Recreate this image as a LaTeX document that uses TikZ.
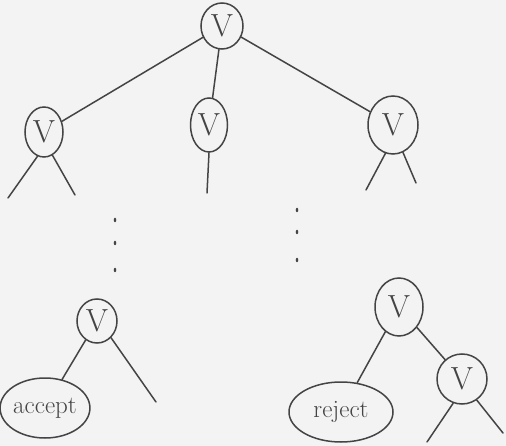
\documentclass[tikz,border=0pt]{standalone}
\usetikzlibrary{shapes.geometric}
\definecolor{ink}{HTML}{444444}
\definecolor{paper}{HTML}{F3F3F3}
\begin{document}
\begin{tikzpicture}[x=1pt,y=-1pt,
  pen/.style={draw=ink,line width=1.5pt,line cap=round},
  vnode/.style={ellipse,pen,inner sep=0pt,text=ink,font=\fontsize{32}{32}\selectfont},
  leaf/.style={ellipse,pen,inner sep=0pt,text=ink,font=\fontsize{25}{25}\selectfont},
  dot/.style={ellipse,fill=ink,inner sep=0pt,minimum width=2.6pt,minimum height=4.5pt}]
  \fill[paper] (0,0) rectangle (506,446);
  \useasboundingbox (0,0) rectangle (506,446);

  % upper tree
  \node[vnode,minimum width=42,minimum height=46] (root) at (222,26) {V};
  \node[vnode,minimum width=38,minimum height=50] (a) at (44,132) {V};
  \node[vnode,minimum width=37,minimum height=54] (b) at (209,125) {V};
  \node[vnode,minimum width=50,minimum height=58] (c) at (393,125) {V};
  \draw[pen] (root) -- (a);
  \draw[pen] (root) -- (b);
  \draw[pen] (root) -- (c);

  % open branches below the first level
  \coordinate (a1) at (8,198);
  \coordinate (a2) at (75,195);
  \coordinate (b1) at (207,193);
  \coordinate (c1) at (366,190);
  \coordinate (c2) at (416,183);
  \draw[pen] (a.-105) -- (a1);
  \draw[pen] (a.-70) -- (a2);
  \draw[pen] (b.-90) -- (b1);
  \draw[pen] (c.-105) -- (c1);
  \draw[pen] (c.-70) -- (c2);

  % vertical ellipses
  \node[dot] (d1) at (115,220) {};
  \node[dot] (d2) at (115,243) {};
  \node[dot] (d3) at (115,270) {};
  \node[dot] (e1) at (297,210) {};
  \node[dot] (e2) at (297,232) {};
  \node[dot] (e3) at (297,260) {};

  % lower left subtree
  \node[vnode,minimum width=40,minimum height=44] (p) at (97,321) {V};
  \node[leaf,minimum width=84,minimum height=60] (acc) at (45,408) {accept};
  \coordinate (p2) at (156,402);
  \draw[pen] (p) -- (acc);
  \draw[pen] (p.-50) -- (p2);

  % lower right subtree
  \node[vnode,minimum width=48,minimum height=58] (q) at (399,307) {V};
  \node[leaf,minimum width=104,minimum height=60] (rej) at (341,412) {reject};
  \node[vnode,minimum width=50,minimum height=50] (s) at (462,379) {V};
  \draw[pen] (q) -- (rej);
  \draw[pen] (q) -- (s);
  \coordinate (s1) at (427,442);
  \coordinate (s2) at (503,433);
  \draw[pen] (s.-110) -- (s1);
  \draw[pen] (s.-55) -- (s2);
\end{tikzpicture}
\end{document}
